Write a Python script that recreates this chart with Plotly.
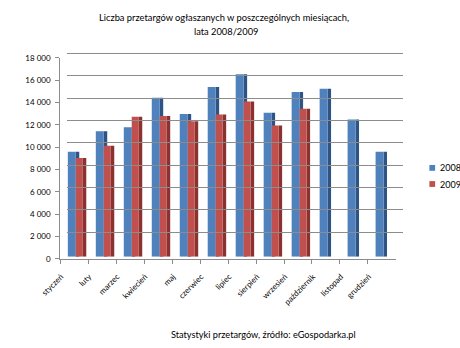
import plotly.graph_objects as go

months = ["styczeń", "luty", "marzec", "kwiecień", "maj", "czerwiec", "lipiec",
          "sierpień", "wrzesień", "październik", "listopad", "grudzień"]
v2008 = [9400, 11250, 11600, 14250, 12800, 15200, 16350, 12900, 14750, 15050, 12300, 9400]
v2009 = [8850, 9950, 12550, 12600, 12150, 12750, 13900, 11750, 13250, None, None, None]
ytick_vals = list(range(0, 18001, 2000))
series_names = ["2008", "2009"]

W, H = 460, 348
def px(x):
    return x / W
def py(y):
    return (H - y) / H

BLUE, BLUE_D = "#4F81BD", "#2E5485"
RED, RED_D = "#C0504D", "#8A3230"
GRID = "#8C8C8C"
FONT = "Lato"

fig = go.Figure()
# invisible traces to create the front subplot (axes) and back wall subplot (gridlines)
fig.add_scatter(x=[months[0]], y=[0], xaxis="x", yaxis="y", mode="markers",
                marker=dict(opacity=0), showlegend=False, hoverinfo="skip")
fig.add_scatter(x=[0.5], y=[0], xaxis="x2", yaxis="y2", mode="markers",
                marker=dict(opacity=0), showlegend=False, hoverinfo="skip")
# bars: side faces then front faces (x on front axis, y on middle-depth axis)
fig.add_bar(x=months, y=v2008, offset=0.057, width=0.125, marker_color=BLUE_D,
            marker_line_width=0, xaxis="x", yaxis="y3", showlegend=False, hoverinfo="skip")
fig.add_bar(x=months, y=v2008, offset=-0.2265, width=0.2835, marker_color=BLUE,
            marker_line_width=0, xaxis="x", yaxis="y3", showlegend=False, name="2008")
fig.add_bar(x=months, y=v2009, offset=0.310, width=0.123, marker_color=RED_D,
            marker_line_width=0, xaxis="x", yaxis="y3", showlegend=False, hoverinfo="skip")
fig.add_bar(x=months, y=v2009, offset=0.057, width=0.253, marker_color=RED,
            marker_line_width=0, xaxis="x", yaxis="y3", showlegend=False, name="2009")

# legend drawn as squares + text
shapes = []
annotations = []
for i, (nm, col) in enumerate(zip(series_names, [BLUE, RED])):
    yc = 167.7 + i * 16.6
    shapes.append(dict(type="rect", xref="paper", yref="paper",
                       x0=px(428), x1=px(434), y0=py(yc + 3), y1=py(yc - 3),
                       fillcolor=col, line=dict(width=0)))
    annotations.append(dict(text=nm, x=px(436.5), y=py(yc), xref="paper", yref="paper",
                            showarrow=False, xanchor="left", yanchor="middle",
                            font=dict(family=FONT, size=9)))

annotations += [
    dict(text="Liczba przetargów ogłaszanych w poszczególnych miesiącach,",
         x=px(213), y=py(13), xref="paper", yref="paper", showarrow=False,
         xanchor="center", yanchor="middle", font=dict(family=FONT, size=9.3)),
    dict(text="lata 2008/2009",
         x=px(215), y=py(27), xref="paper", yref="paper", showarrow=False,
         xanchor="center", yanchor="middle", font=dict(family=FONT, size=9.3)),
    dict(text="Statystyki przetargów, źródło: eGospodarka.pl",
         x=px(255), y=py(339), xref="paper", yref="paper", showarrow=False,
         xanchor="center", yanchor="middle", font=dict(family=FONT, size=9.2)),
]

fig.update_layout(
    width=W, height=H,
    margin=dict(l=0, r=0, t=0, b=0),
    paper_bgcolor="white", plot_bgcolor="rgba(0,0,0,0)",
    barmode="overlay",
    separators=", ",
    showlegend=False,
    font=dict(family=FONT, size=8, color="#000000"),
    xaxis=dict(domain=[px(42), px(393)], anchor="y", type="category",
               categoryorder="array", categoryarray=months,
               range=[-0.5, 11.5], showgrid=False, zeroline=False,
               showline=True, linecolor=GRID, linewidth=1,
               ticks="outside", ticklen=4, tickcolor=GRID, tickson="boundaries",
               tickangle=-45, ticklabelshift=-13, ticklabelstandoff=9,
               tickfont=dict(family=FONT, size=8)),
    yaxis=dict(domain=[py(261.5), py(54.5)], anchor="x", range=[0, 18000],
               tickvals=ytick_vals, tickformat=",d", showgrid=False, zeroline=False,
               showline=True, linecolor=GRID, linewidth=1,
               ticks="outside", ticklen=4, tickcolor=GRID, ticklabelstandoff=3,
               tickfont=dict(family=FONT, size=8)),
    xaxis2=dict(domain=[px(49), px(400)], anchor="y2", range=[0, 1],
                showgrid=False, zeroline=False, showticklabels=False, showline=False),
    yaxis2=dict(domain=[py(257), py(257 - 18.3 * 11.5)], anchor="x2", range=[0, 18300],
                tickvals=ytick_vals, showgrid=True, gridcolor=GRID, gridwidth=1,
                zeroline=False, showticklabels=False, showline=False, ticks=""),
    yaxis3=dict(domain=[py(259.3), py(52.3)], anchor="x", range=[0, 18000],
                showgrid=False, zeroline=False, showticklabels=False, showline=False),
    shapes=shapes,
    annotations=annotations,
)

fig.write_html("out.html")
